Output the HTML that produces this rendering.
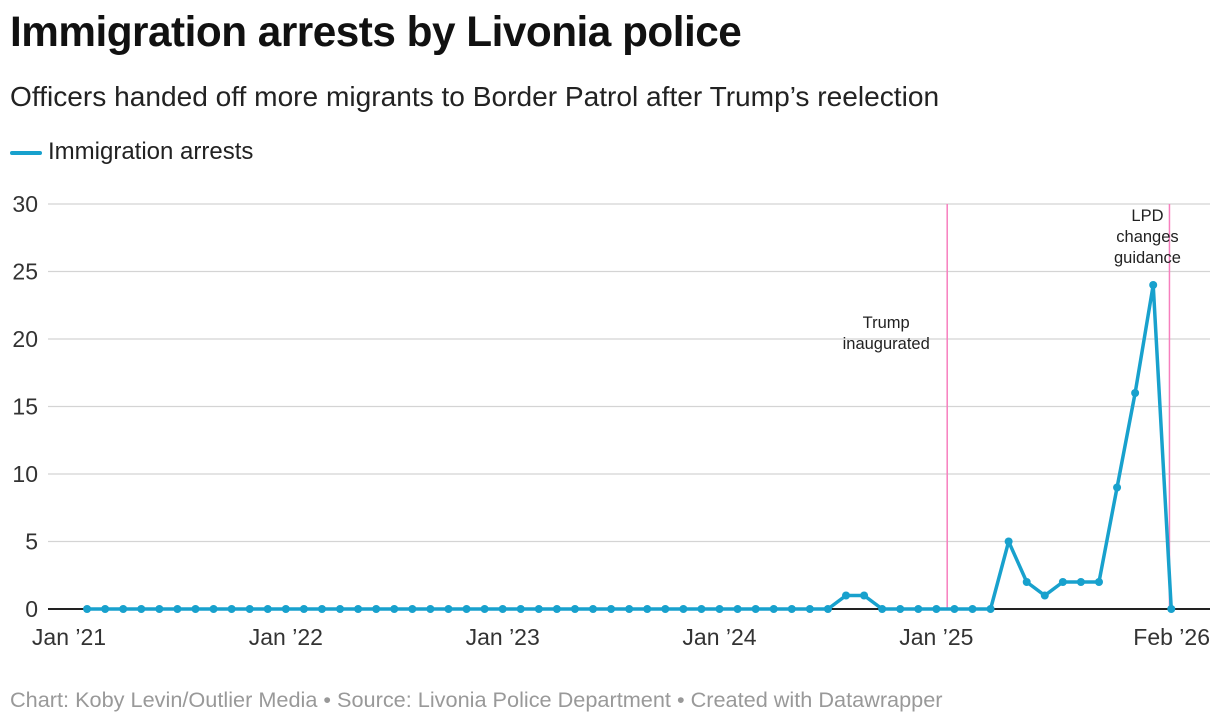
<!DOCTYPE html>
<html><head><meta charset="utf-8"><style>
body{margin:0;background:#fff;font-family:"Liberation Sans",sans-serif;}
#wrap{position:relative;width:1220px;height:726px;overflow:hidden}
h1{position:absolute;left:10px;top:8px;margin:0;font-size:42.3px;font-weight:bold;color:#111;letter-spacing:-0.5px}
.sub{position:absolute;left:10px;top:81px;font-size:28.1px;color:#222}
.leg{position:absolute;left:10px;top:138px;font-size:24px;color:#222}
.leg span{display:inline-block;width:32px;height:4px;background:#18a1cd;vertical-align:middle;margin-right:6px;border-radius:2px}
.foot{position:absolute;left:10px;top:687px;font-size:21.7px;color:#999}
</style></head><body>
<div id="wrap">
<h1>Immigration arrests by Livonia police</h1>
<div class="sub">Officers handed off more migrants to Border Patrol after Trump’s reelection</div>
<div class="leg"><span></span>Immigration arrests</div>
<svg id="c" width="1220" height="726" style="position:absolute;left:0;top:0"></svg>
<div class="foot">Chart: Koby Levin/Outlier Media • Source: Livonia Police Department • Created with Datawrapper</div>
</div>
<script>
const values=[0,0,0,0,0,0,0,0,0,0,0,0, 0,0,0,0,0,0,0,0,0,0,0,0, 0,0,0,0,0,0,0,0,0,0,0,0, 0,0,0,0,0,0,1,1,0,0,0,0, 0,0,0,5,2,1,2,2,2,9,16,24, 0];
const yTicks=[0,5,10,15,20,25,30];
const xTickMonths=[0,12,24,36,48,61];
const xTickLabels=["Jan ’21","Jan ’22","Jan ’23","Jan ’24","Jan ’25","Feb ’26"];
const annotMonths=[48.6,60.9];
const annotLabels=[["Trump","inaugurated"],["LPD","changes","guidance"]];
const NS="http://www.w3.org/2000/svg";
const svg=document.getElementById('c');
const xs=m=>69+m*18.07;
const ys=v=>609-v*13.5;
function mk(t,a){const e=document.createElementNS(NS,t);for(const k in a)e.setAttribute(k,a[k]);svg.appendChild(e);return e;}
yTicks.forEach(v=>{
 if(v>0){const l=mk('line',{x1:48,x2:1210,y1:ys(v),y2:ys(v),stroke:'#d4d4d4','stroke-width':1.3});
 
 }
 const t=mk('text',{x:38,y:ys(v)+8,'text-anchor':'end','font-size':23,fill:'#333','font-family':'Liberation Sans'});
 t.textContent=v;
 
 
});
xTickMonths.forEach((m,i)=>{
 const last=i==xTickMonths.length-1;
 const t=mk('text',{x:last?1210:xs(m),y:645,'text-anchor':last?'end':'middle','font-size':23,fill:'#333','font-family':'Liberation Sans'});
 t.textContent=xTickLabels[i];
 
 
});
annotMonths.forEach((m,i)=>{
 const l=mk('line',{x1:xs(m),x2:xs(m),y1:204,y2:609,stroke:'#f77fbe','stroke-width':1.5});
 
 
 const lines=annotLabels[i];
 const cx=i==0?xs(m)-61:xs(m)-22;
 const y0=i==0?328:221;
 lines.forEach((s,j)=>{
  const t=mk('text',{x:cx,y:y0+j*21,'text-anchor':'middle','font-size':16.5,fill:'#222','font-family':'Liberation Sans'});
  t.textContent=s;
  
  
 });
});
const base=mk('line',{x1:48,x2:1210,y1:609,y2:609,stroke:'#222','stroke-width':2});


const pts=values.map((v,i)=>xs(i+1)+','+ys(v)).join(' ');
const pl=mk('polyline',{points:pts,fill:'none',stroke:'#18a1cd','stroke-width':3.5,'stroke-linejoin':'round'});


values.forEach((v,i)=>{
 const c=mk('circle',{cx:xs(i+1),cy:ys(v),r:4,fill:'#18a1cd'});
 
 
});
</script>
</body></html>
